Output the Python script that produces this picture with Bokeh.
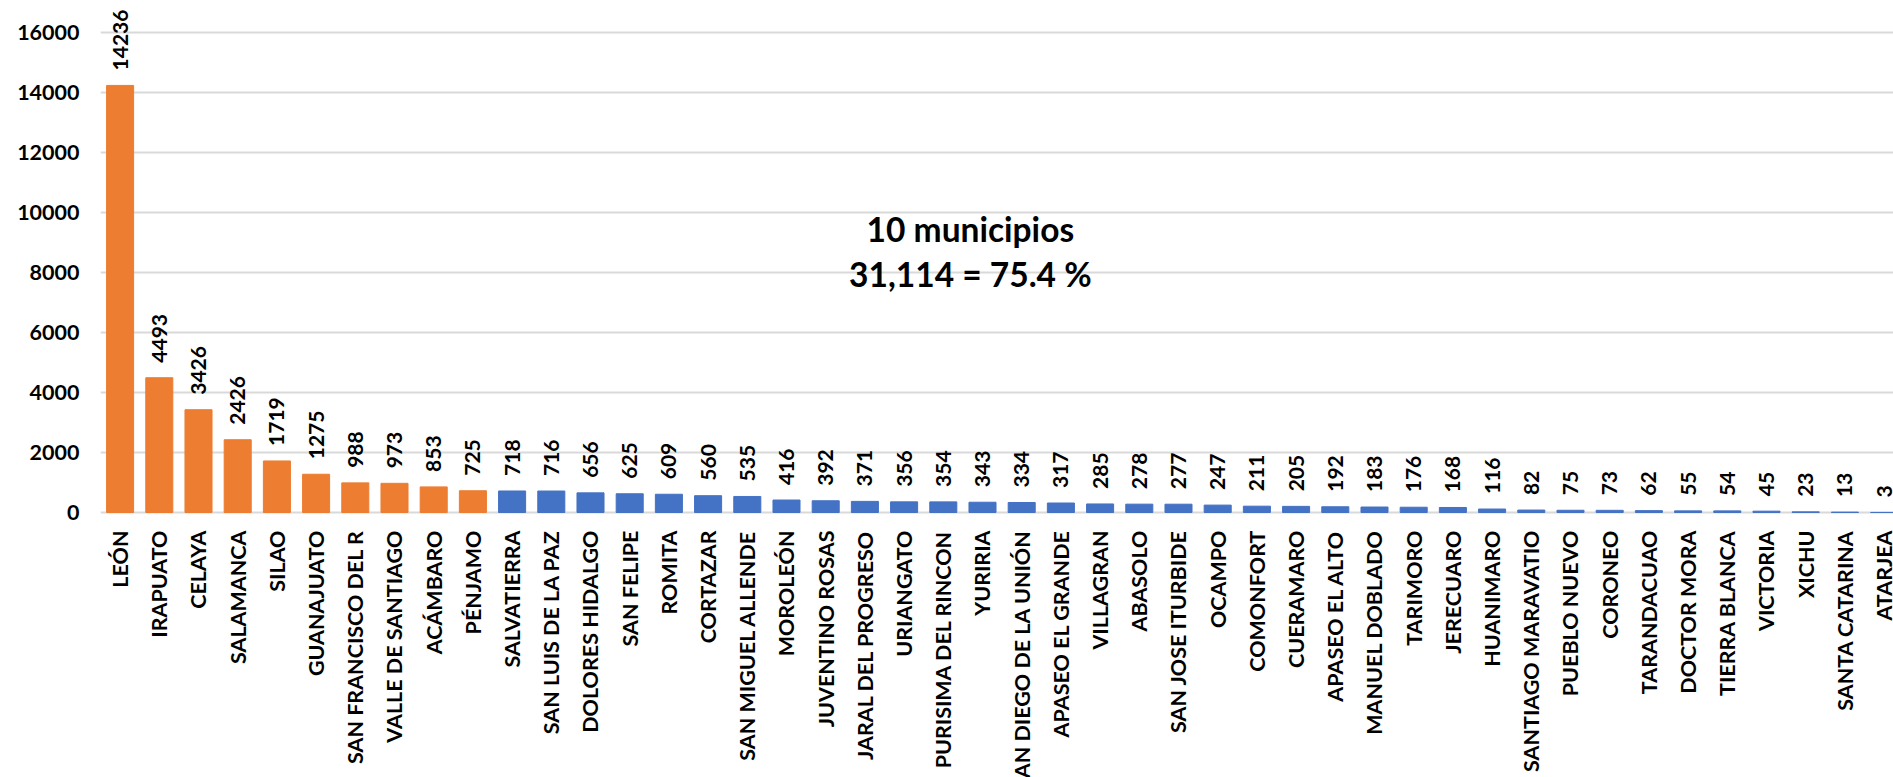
import math
from bokeh.plotting import figure
from bokeh.models import ColumnDataSource, Range1d, FixedTicker, Label, LabelSet
from bokeh.core.properties import value
from bokeh.embed import file_html
from bokeh.resources import INLINE

municipios = [
    "LEÓN", "IRAPUATO", "CELAYA", "SALAMANCA", "SILAO", "GUANAJUATO",
    "SAN FRANCISCO DEL R", "VALLE DE SANTIAGO", "ACÁMBARO", "PÉNJAMO",
    "SALVATIERRA", "SAN LUIS DE LA PAZ", "DOLORES HIDALGO", "SAN FELIPE",
    "ROMITA", "CORTAZAR", "SAN MIGUEL ALLENDE", "MOROLEÓN", "JUVENTINO ROSAS",
    "JARAL DEL PROGRESO", "URIANGATO", "PURISIMA DEL RINCON", "YURIRIA",
    "SAN DIEGO DE LA UNIÓN", "APASEO EL GRANDE", "VILLAGRAN", "ABASOLO",
    "SAN JOSE ITURBIDE", "OCAMPO", "COMONFORT", "CUERAMARO", "APASEO EL ALTO",
    "MANUEL DOBLADO", "TARIMORO", "JERECUARO", "HUANIMARO", "SANTIAGO MARAVATIO",
    "PUEBLO NUEVO", "CORONEO", "TARANDACUAO", "DOCTOR MORA", "TIERRA BLANCA",
    "VICTORIA", "XICHU", "SANTA CATARINA", "ATARJEA",
]
casos = [
    14236, 4493, 3426, 2426, 1719, 1275, 988, 973, 853, 725,
    718, 716, 656, 625, 609, 560, 535, 416, 392, 371, 356, 354, 343,
    334, 317, 285, 278, 277, 247, 211, 205, 192, 183, 176, 168, 116,
    82, 75, 73, 62, 55, 54, 45, 23, 13, 3,
]
top_n = 10
y_ticks = [0, 2000, 4000, 6000, 8000, 10000, 12000, 14000, 16000]
anotacion_1 = "10 municipios"
anotacion_2 = "31,114 = 75.4 %"

ORANGE = "#ED7D31"
BLUE = "#4472C4"
FONT = "Lato"

idx = list(range(len(municipios)))
colors = [ORANGE if i < top_n else BLUE for i in idx]
src = ColumnDataSource(dict(x=idx, y=casos, base=[0] * len(idx), color=colors,
                            label=[str(v) for v in casos], name=municipios))

# frame spans the whole height; the area below zero holds the category names
p = figure(width=1893, height=777, output_backend="svg", toolbar_location=None,
           x_range=Range1d(-0.5, 45.24), y_range=Range1d(-8833, 17067),
           min_border_left=100, min_border_right=0, min_border_top=0,
           min_border_bottom=0)
p.outline_line_color = None
p.background_fill_color = "white"

p.vbar(x="x", top="y", width=0.69, color="color", source=src)

# value labels above bars
p.add_layout(LabelSet(x="x", y="y", text="label", source=src, angle=math.pi / 2,
                      text_align="left", text_baseline="middle", y_offset=15,
                      text_font=value(FONT), text_font_size="21px",
                      text_font_style="bold", text_color="black"))

# category labels below the baseline (overflow the bottom like the original)
p.add_layout(LabelSet(x="x", y="base", text="name", source=src, angle=math.pi / 2,
                      text_align="right", text_baseline="middle", y_offset=-18,
                      text_font=value(FONT), text_font_size="21.5px",
                      text_font_style="bold", text_color="black"))

p.xaxis.visible = False

p.yaxis.ticker = FixedTicker(ticks=y_ticks)
p.yaxis.major_label_text_font = FONT
p.yaxis.major_label_text_font_size = "21.5px"
p.yaxis.major_label_text_font_style = "bold"
p.yaxis.major_label_text_color = "black"
p.yaxis.axis_line_color = None
p.yaxis.major_tick_line_color = None
p.yaxis.minor_tick_line_color = None
p.yaxis.major_tick_out = 0
p.yaxis.major_label_standoff = 21

p.xgrid.grid_line_color = None
p.ygrid.grid_line_color = "#D9D9D9"
p.ygrid.grid_line_width = 2
p.ygrid.ticker = FixedTicker(ticks=y_ticks)

p.add_layout(Label(x=21.69, y=9457, text=anotacion_1, text_align="center",
                   text_baseline="alphabetic", text_font=FONT,
                   text_font_size="33.5px", text_font_style="bold",
                   text_color="black"))
p.add_layout(Label(x=21.69, y=7957, text=anotacion_2, text_align="center",
                   text_baseline="alphabetic", text_font=FONT,
                   text_font_size="33.5px", text_font_style="bold",
                   text_color="black"))

open("out.html", "w").write(file_html(p, INLINE))
